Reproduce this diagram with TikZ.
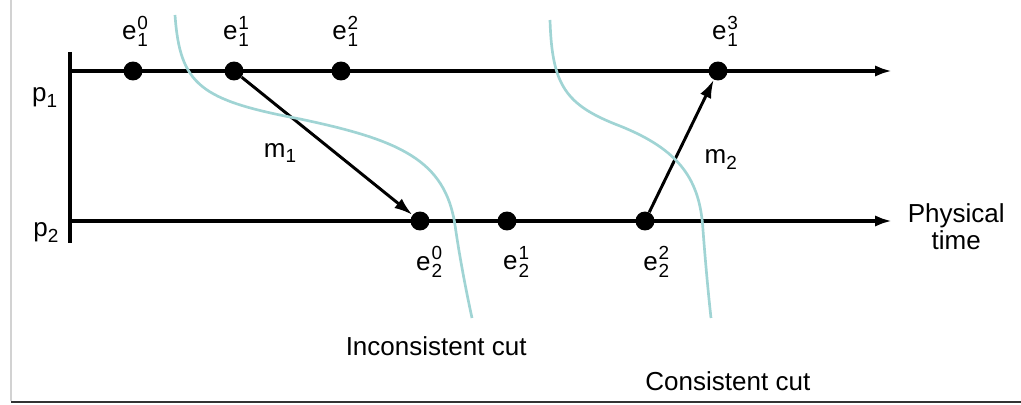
\documentclass[tikz,border=0pt]{standalone}
\usepackage{fontspec}
\setmainfont{Liberation Sans}
\usepackage{xcolor}
\usepackage{tikz}
\usetikzlibrary{arrows.meta,positioning}

\definecolor{cutcol}{RGB}{160,212,212}

\newcommand{\idx}[1]{{\fontsize{13.5}{13.5}\selectfont #1}}
\newcommand{\ev}[2]{e\kern0.6pt\rlap{\raisebox{7.4pt}{\idx{#2}}}\raisebox{-5pt}{\idx{#1}}}
\newcommand{\lowidx}[2]{#1\raisebox{-4pt}{\idx{#2}}}

\begin{document}
\begin{tikzpicture}[
  x=0.025cm, y=-0.025cm,
  font=\fontsize{18.5}{19}\selectfont,
  event/.style={circle, fill=black, inner sep=0pt, minimum size=13.5pt},
  evlabel/.style={inner sep=0pt},
  axis/.style={line width=2.4pt, -{Latex[length=12pt,width=8pt]}},
  msg/.style={line width=2.1pt, -{Latex[length=13pt,width=8.5pt]}},
  cut/.style={cutcol, line width=1.9pt},
]
\useasboundingbox (0,0) rectangle (1021,405);

% Frame
\draw[gray!35, line width=2pt] (11,0) -- (11,401);
\draw[black!80, line width=2pt] (11,402) -- (1021,402);

% Process lines
\coordinate (bartop) at (70,52);
\coordinate (barbot) at (70,243);
\coordinate (p1start) at (70,71);
\coordinate (p1end) at (892,71);
\coordinate (p2start) at (70,221);
\coordinate (p2end) at (892,221);
\draw[line width=2.4pt] (bartop) -- (barbot);
\draw[axis] (p1start) -- (p1end);
\draw[axis] (p2start) -- (p2end);

\node[evlabel, left=9pt of p1start, yshift=-19pt] (p1) {\lowidx{p}{1}};
\node[evlabel, left=8pt of p2start, yshift=-8pt] (p2) {\lowidx{p}{2}};
\node[inner sep=0pt, align=center, right=11pt of p2end, yshift=-4pt] (ptime) {Physical\\time};

% Events on p1
\node[event] (e10) at (133,71) {};
\node[event] (e11) at (234,71) {};
\node[event] (e12) at (341,71) {};
\node[event] (e13) at (718,71) {};

% Events on p2
\node[event] (e20) at (420,221) {};
\node[event] (e21) at (507,221) {};
\node[event] (e22) at (645,221) {};

% Event labels
\node[evlabel, above=10pt of e10, xshift=1.5pt] (l10) {\ev{1}{0}};
\node[evlabel, above=10pt of e11, xshift=1.5pt] (l11) {\ev{1}{1}};
\node[evlabel, above=10pt of e12, xshift=3pt] (l12) {\ev{1}{2}};
\node[evlabel, above=10pt of e13, xshift=5pt] (l13) {\ev{1}{3}};
\node[evlabel, below=11pt of e20, xshift=6.5pt] (l20) {\ev{2}{0}};
\node[evlabel, below=11pt of e21, xshift=6.5pt] (l21) {\ev{2}{1}};
\node[evlabel, below=11pt of e22, xshift=8pt] (l22) {\ev{2}{2}};

% Messages
\draw[msg] (e11) -- node[evlabel, pos=0.55, left=27pt] {\lowidx{m}{1}} (e20);
\draw[msg] (e22) -- node[evlabel, pos=0.4, right=20pt] {\lowidx{m}{2}} (e13);

% Cuts
\coordinate (icutend) at (472,318);
\coordinate (ccutend) at (711,318);
\draw[cut] (175,15) .. controls (180,85) and (200,100) .. (300,119)
  .. controls (400,140) and (445,160) .. (455,225)
  .. controls (460,260) and (467,295) .. (icutend);
\draw[cut] (550,20) .. controls (552,85) and (565,105) .. (620,126)
  .. controls (680,150) and (700,180) .. (703,230)
  .. controls (706,270) and (709,300) .. (ccutend);

\node[inner sep=0pt, below=13pt of icutend, xshift=-25.5pt] (icut) {Inconsistent cut};
\node[inner sep=0pt, below=38pt of ccutend, xshift=12pt] (ccut) {Consistent cut};

\end{tikzpicture}
\end{document}
